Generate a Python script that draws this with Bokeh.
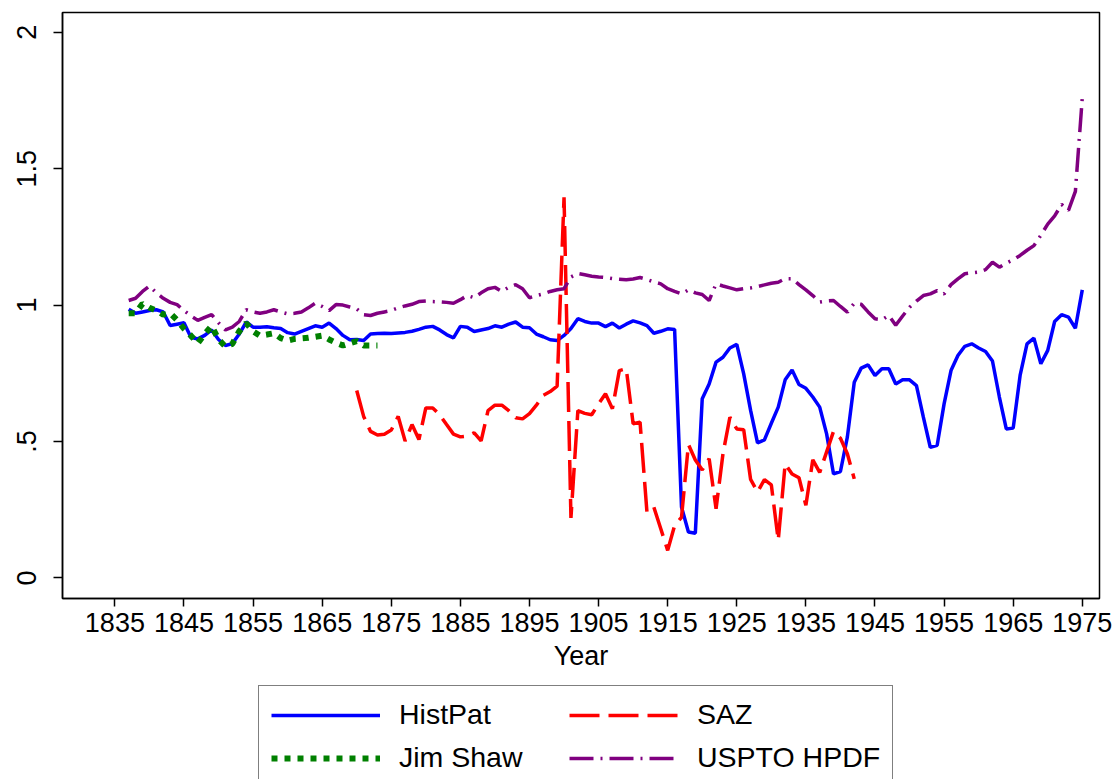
from bokeh.plotting import figure
from bokeh.layouts import column
from bokeh.models import Range1d, FixedTicker, Legend, LegendItem
from bokeh.embed import file_html
from bokeh.resources import INLINE

FONT = "Liberation Sans"

# ---------------- data ----------------
hist_years = list(range(1837, 1976))
histpat = [
    0.985, 0.970, 0.975,
    0.980, 0.983, 0.975, 0.925, 0.930, 0.935, 0.882, 0.876, 0.889, 0.909,
    0.874, 0.852, 0.859, 0.894, 0.938, 0.919, 0.919, 0.921, 0.917, 0.914,
    0.899, 0.894, 0.904, 0.914, 0.924, 0.919, 0.934, 0.914, 0.889, 0.873,
    0.874, 0.870, 0.894, 0.896, 0.897, 0.896, 0.898, 0.900, 0.904, 0.911,
    0.919, 0.922, 0.909, 0.892, 0.880, 0.922, 0.919, 0.903, 0.909, 0.914,
    0.924, 0.919, 0.930, 0.938, 0.919, 0.917, 0.894, 0.884, 0.873, 0.870,
    0.889, 0.914, 0.950, 0.940, 0.934, 0.934, 0.921, 0.934, 0.916, 0.930,
    0.942, 0.935, 0.925, 0.897, 0.904, 0.913, 0.911, 0.260, 0.168, 0.164,
    0.657, 0.711, 0.791, 0.809, 0.843, 0.856, 0.748, 0.614, 0.495, 0.506,
    0.567, 0.626, 0.726, 0.762, 0.709, 0.695, 0.663, 0.626, 0.528, 0.381,
    0.390, 0.516, 0.717, 0.769, 0.781, 0.742, 0.767, 0.767, 0.711, 0.726,
    0.726, 0.705, 0.589, 0.479, 0.486, 0.638, 0.760, 0.815, 0.849, 0.858,
    0.843, 0.830, 0.795, 0.663, 0.546, 0.549, 0.742, 0.858, 0.879, 0.785,
    0.834, 0.940, 0.965, 0.956, 0.915, 1.056,
]

uspto_years = list(range(1837, 1976))
uspto = [
    1.017, 1.025, 1.050,
    1.070, 1.045, 1.025, 1.010, 1.002, 0.980, 0.960, 0.944, 0.955, 0.965,
    0.935, 0.909, 0.919, 0.940, 0.983, 0.975, 0.970, 0.975, 0.983, 0.975,
    0.968, 0.970, 0.975, 0.990, 1.007, 0.995, 0.980, 1.002, 1.000, 0.993,
    0.986, 0.965, 0.962, 0.970, 0.975, 0.980, 0.990, 0.997, 1.003, 1.013,
    1.015, 1.013, 1.012, 1.010, 1.007, 1.020, 1.035, 1.027, 1.045, 1.060,
    1.065, 1.050, 1.065, 1.075, 1.060, 1.027, 1.035, 1.041, 1.050, 1.056,
    1.060, 1.103, 1.116, 1.111, 1.106, 1.103, 1.101, 1.097, 1.095, 1.093,
    1.096, 1.101, 1.094, 1.085, 1.078, 1.060, 1.050, 1.041, 1.056, 1.045,
    1.039, 1.017, 1.078, 1.070, 1.063, 1.056, 1.060, 1.063, 1.068, 1.074,
    1.080, 1.084, 1.097, 1.097, 1.075, 1.056, 1.035, 1.011, 1.015, 1.017,
    0.995, 0.974, 1.007, 1.003, 0.975, 0.950, 0.946, 0.962, 0.926, 0.960,
    0.992, 1.015, 1.035, 1.041, 1.053, 1.041, 1.075, 1.096, 1.115, 1.118,
    1.121, 1.130, 1.157, 1.139, 1.154, 1.166, 1.182, 1.201, 1.218, 1.256,
    1.297, 1.327, 1.369, 1.347, 1.417, 1.760,
]

shaw_years = list(range(1837, 1874))
jimshaw = [
    0.970, 0.970, 1.005,
    0.990, 0.980, 0.965, 0.970, 0.945, 0.914, 0.888, 0.860, 0.894, 0.924,
    0.874, 0.848, 0.858, 0.904, 0.934, 0.904, 0.888, 0.892, 0.897, 0.879,
    0.870, 0.876, 0.878, 0.880, 0.884, 0.888, 0.874, 0.862, 0.852, 0.860,
    0.868, 0.852, 0.852, 0.852,
]

saz_years = list(range(1870, 1943))
saz = [
    0.687, 0.592, 0.537, 0.524, 0.527, 0.542, 0.592, 0.502, 0.562, 0.507,
    0.623, 0.623, 0.598, 0.562, 0.527, 0.517, 0.520, 0.532, 0.502, 0.613,
    0.633, 0.633, 0.613, 0.587, 0.583, 0.602, 0.633, 0.669, 0.683, 0.703,
    1.395, 0.220, 0.613, 0.603, 0.598, 0.638, 0.675, 0.620, 0.760, 0.767,
    0.565, 0.571, 0.241, 0.259, 0.180, 0.101, 0.192, 0.222, 0.489, 0.432,
    0.396, 0.437, 0.253, 0.455, 0.589, 0.546, 0.543, 0.361, 0.315, 0.360,
    0.341, 0.138, 0.418, 0.381, 0.367, 0.266, 0.433, 0.387, 0.462, 0.537,
    0.512, 0.455, 0.363,
]

x_ticks = list(range(1835, 1976, 10))
y_ticks = [0, 0.5, 1, 1.5, 2]
y_tick_labels = ["0", ".5", "1", "1.5", "2"]

series_names = ["HistPat", "SAZ", "Jim Shaw", "USPTO HPDF"]
series_colors = ["#0000FF", "#FF0000", "#008000", "#800080"]
series_widths = [3.5, 3.5, 6, 3.5]
series_dashes = ["solid", "30 9", "6 7", "24 7 2 7"]

W = 1114

# ---------------- main figure ----------------
p = figure(
    width=W, height=680,
    x_range=Range1d(1827.42, 1977.49),
    y_range=Range1d(-0.0755, 2.0726),
    output_backend="svg", toolbar_location=None,
    min_border_left=62, min_border_right=W - 1099,
    min_border_top=12, min_border_bottom=82,
)
p.background_fill_color = "white"
p.border_fill_color = "white"
p.outline_line_color = "black"
p.outline_line_width = 1.5
p.xgrid.visible = False
p.ygrid.visible = False

data = [(hist_years, histpat), (saz_years, saz), (shaw_years, jimshaw),
        (uspto_years, uspto)]
for (xs, ys), c, w, d in zip(data, series_colors, series_widths, series_dashes):
    p.line(xs, ys, line_color=c, line_width=w, line_dash=d)

# x axis
xa = p.xaxis[0]
xa.ticker = FixedTicker(ticks=x_ticks)
xa.minor_tick_line_color = None
xa.major_tick_in = 0
xa.major_tick_out = 8
xa.major_tick_line_width = 1.5
xa.axis_line_width = 1.5
xa.axis_line_color = "black"
xa.major_label_text_font = FONT
xa.major_label_text_font_size = "27px"
xa.major_label_text_color = "black"
xa.major_label_standoff = 6
xa.axis_label = "Year"
xa.axis_label_text_font = FONT
xa.axis_label_text_font_size = "27px"
xa.axis_label_text_font_style = "normal"
xa.axis_label_text_color = "black"
xa.axis_label_standoff = 6

# y axis
ya = p.yaxis[0]
ya.ticker = FixedTicker(ticks=y_ticks)
ya.major_label_overrides = {t: lab for t, lab in zip(y_ticks, y_tick_labels)}
ya.minor_tick_line_color = None
ya.major_tick_in = 0
ya.major_tick_out = 9
ya.major_tick_line_width = 1.5
ya.axis_line_width = 1.5
ya.axis_line_color = "black"
ya.major_label_text_font = FONT
ya.major_label_text_font_size = "27px"
ya.major_label_text_color = "black"
ya.major_label_orientation = "vertical"
ya.major_label_standoff = 17

# ---------------- legend strip ----------------
q = figure(
    width=W, height=99,
    x_range=Range1d(0, 1), y_range=Range1d(0, 1),
    x_axis_type=None, y_axis_type=None,
    output_backend="svg", toolbar_location=None,
    min_border_left=0, min_border_right=0,
    min_border_top=0, min_border_bottom=0,
)
q.outline_line_color = None
q.background_fill_color = "white"
q.border_fill_color = "white"
q.xgrid.visible = False
q.ygrid.visible = False

# legend keys: same series, drawn outside this strip's (empty) view
keys = []
for (xs, ys), c, w, d in zip(data, series_colors, series_widths, series_dashes):
    keys.append(q.line(xs, ys, line_color=c, line_width=w, line_dash=d))

legend = Legend(
    items=[
        LegendItem(label=series_names[0], renderers=[keys[0]]),
        LegendItem(label=series_names[2], renderers=[keys[2]]),
        LegendItem(label=series_names[1], renderers=[keys[1]]),
        LegendItem(label=series_names[3], renderers=[keys[3]]),
    ],
    location=(196, -8),
    orientation="vertical",
    ncols=2,
    glyph_width=109, glyph_height=28,
    label_standoff=19, label_width=160, label_height=28,
    spacing=10, padding=12, margin=0,
    label_text_font=FONT, label_text_font_size="28.5px",
    label_text_color="black",
    border_line_color="black", border_line_width=1.5,
    background_fill_color="white", background_fill_alpha=1.0,
)
q.add_layout(legend, "center")

layout = column(p, q, spacing=0)
open("out.html", "w").write(file_html(layout, INLINE))
